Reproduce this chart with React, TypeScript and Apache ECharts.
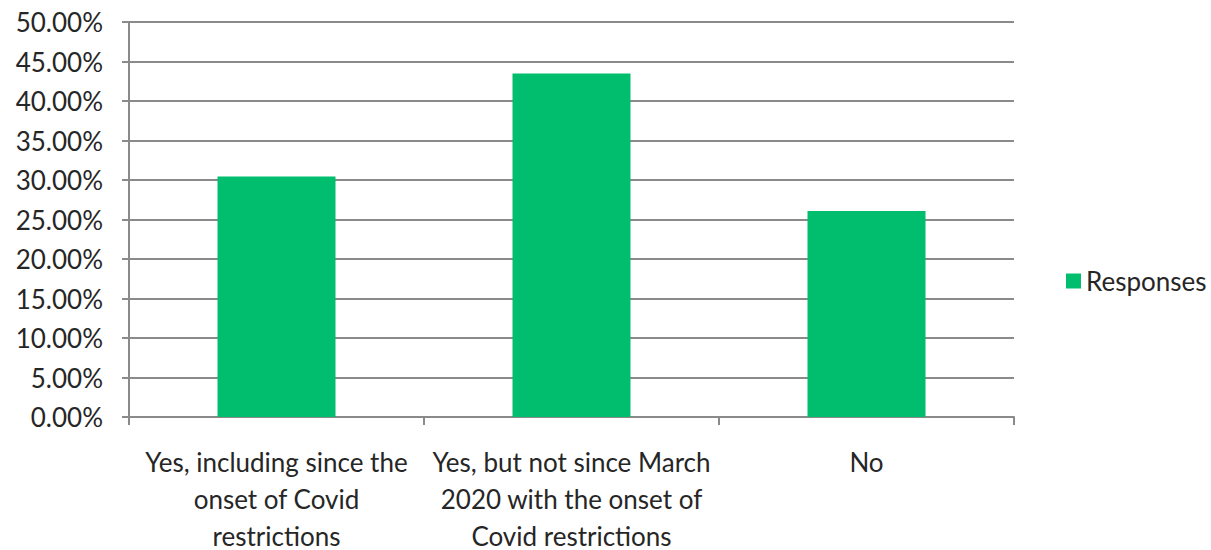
import React, { useEffect, useRef } from "react";
import * as echarts from "echarts";

const categories = [
  "Yes, including since the\nonset of Covid\nrestrictions",
  "Yes, but not since March\n2020 with the onset of\nCovid restrictions",
  "No",
];
const seriesName = "Responses";
const responses = [30.43, 43.48, 26.09];
const yMin = 0;
const yMax = 50;
const yInterval = 5;

const FONT = "Lato";
const TEXT = "#262626";
const GRID = "#8a8a8a";
const GREEN = "#00BE6E";

export default function App() {
  const ref = useRef<HTMLDivElement>(null);
  useEffect(() => {
    if (!ref.current) return;
    const chart = echarts.init(ref.current, null, { renderer: "svg" });
    chart.setOption({
      animation: false,
      backgroundColor: "#ffffff",
      textStyle: { fontFamily: FONT },
      grid: {
        left: 129,
        right: 197,
        top: 22,
        bottom: 133,
        containLabel: false,
        outerBoundsMode: "none",
      },
      legend: {
        data: [seriesName],
        orient: "vertical",
        left: 1061,
        top: 261,
        itemWidth: 15,
        itemHeight: 15,
        icon: "rect",
        textStyle: { fontFamily: FONT, fontSize: 26, color: TEXT, lineHeight: 30 },
      },
      xAxis: {
        type: "category",
        data: categories,
        axisLine: { show: true, lineStyle: { color: GRID, width: 2 } },
        axisTick: { show: true, length: 8, lineStyle: { color: GRID, width: 2 } },
        axisLabel: {
          interval: 0,
          margin: 26,
          fontFamily: FONT,
          fontSize: 26,
          lineHeight: 37,
          color: TEXT,
        },
        splitLine: { show: false },
      },
      yAxis: {
        type: "value",
        min: yMin,
        max: yMax,
        interval: yInterval,
        axisLine: { show: true, lineStyle: { color: GRID, width: 2 } },
        axisTick: { show: true, length: 7, lineStyle: { color: GRID, width: 2 } },
        axisLabel: {
          margin: 26,
          fontFamily: FONT,
          fontSize: 26,
          color: TEXT,
          formatter: (v: number) => v.toFixed(2) + "%",
        },
        splitLine: { show: true, lineStyle: { color: GRID, width: 2 } },
      },
      series: [
        {
          name: seriesName,
          type: "bar",
          data: responses,
          barWidth: "40%",
          itemStyle: { color: GREEN },
        },
      ],
    });
    return () => chart.dispose();
  }, []);
  return (
    <div
      ref={ref}
      style={{ position: "fixed", left: 0, top: 0, width: 1211, height: 550 }}
    />
  );
}
